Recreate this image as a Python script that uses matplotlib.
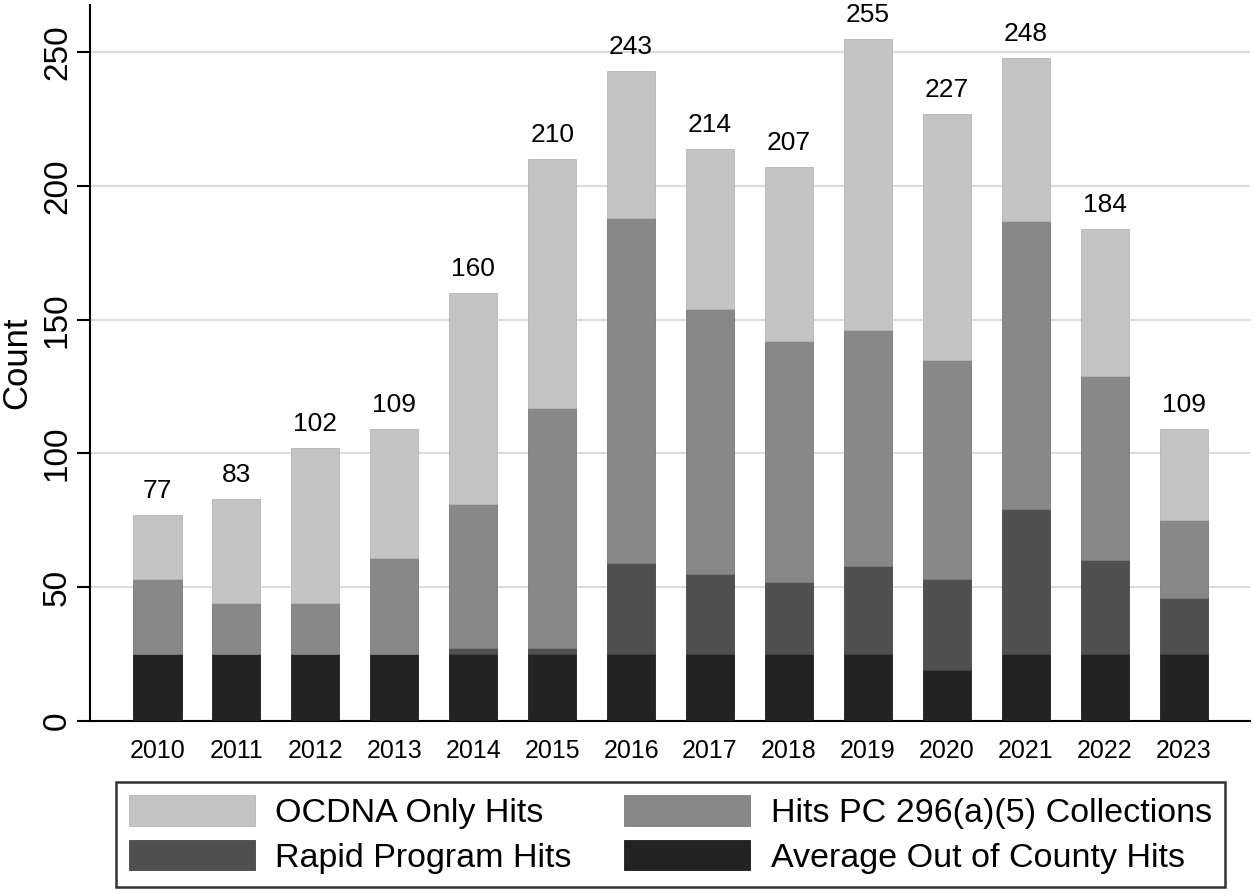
import matplotlib.pyplot as plt
import numpy as np

plt.rcParams['font.family'] = ['Liberation Sans', 'DejaVu Sans']

years = ['2010', '2011', '2012', '2013', '2014', '2015', '2016',
         '2017', '2018', '2019', '2020', '2021', '2022', '2023']

# segment counts (bottom to top)
out_of_county = [25, 25, 25, 25, 25, 25, 25, 25, 25, 25, 19, 25, 25, 25]
rapid = [0, 0, 0, 0, 2, 2, 34, 30, 27, 33, 34, 54, 35, 21]
pc296 = [28, 19, 19, 36, 54, 90, 129, 99, 90, 88, 82, 108, 69, 29]
ocdna_only = [24, 39, 58, 48, 79, 93, 55, 60, 65, 109, 92, 61, 55, 34]
totals = [77, 83, 102, 109, 160, 210, 243, 214, 207, 255, 227, 248, 184, 109]

labels = ['OCDNA Only Hits', 'Hits PC 296(a)(5) Collections',
          'Rapid Program Hits', 'Average Out of County Hits']
colors = ['#c4c4c4', '#888888', '#505050', '#232323']

fig = plt.figure(figsize=(12.55, 8.93), dpi=100)
ax = fig.add_axes([0.072, 0.193, 0.924, 0.801])

x = np.arange(len(years))
w = 0.61
b1 = ax.bar(x, out_of_county, w, color=colors[3], edgecolor='#1a1a1a', lw=0.6, zorder=3)
b2 = ax.bar(x, rapid, w, bottom=out_of_county, color=colors[2], edgecolor='#444444', lw=0.6, zorder=3)
bot3 = np.array(out_of_county) + np.array(rapid)
b3 = ax.bar(x, pc296, w, bottom=bot3, color=colors[1], edgecolor='#7a7a7a', lw=0.6, zorder=3)
bot4 = bot3 + np.array(pc296)
b4 = ax.bar(x, ocdna_only, w, bottom=bot4, color=colors[0], edgecolor='#b4b4b4', lw=0.6, zorder=3)

for xi, t in zip(x, totals):
    ax.text(xi, t + 4.5, str(t), ha='center', va='bottom', fontsize=19)

ax.set_xlim(-0.85, 13.84)
ax.set_ylim(0, 267.6)
ax.set_yticks([0, 50, 100, 150, 200, 250])
ax.set_xticks(x)
ax.set_xticklabels(years, fontsize=18)
ax.tick_params(axis='x', length=0, pad=13)
ax.tick_params(axis='y', length=9.5, width=1.5, labelsize=24, labelrotation=90, pad=3)
for lab in ax.get_yticklabels():
    lab.set_va('center')
ax.set_ylabel('Count', fontsize=25, labelpad=6)

ax.grid(axis='y', color='#dcdcdc', lw=1.5, zorder=0)
ax.spines['top'].set_visible(False)
ax.spines['right'].set_visible(False)
ax.spines['left'].set_linewidth(1.5)
ax.spines['bottom'].set_linewidth(1.5)

# matplotlib fills legend columns first
leg = fig.legend([b4, b2, b3, b1], [labels[0], labels[2], labels[1], labels[3]],
                 ncol=2, loc='lower center', bbox_to_anchor=(0.534, 0.007),
                 borderaxespad=0, fontsize=24.5, frameon=True, fancybox=False,
                 edgecolor='black', handlelength=3.7, handleheight=1.0,
                 columnspacing=1.55, borderpad=0.38, labelspacing=0.32, handletextpad=0.6)
leg.get_frame().set_linewidth(1.8)

fig.savefig('out.png', dpi=100)
